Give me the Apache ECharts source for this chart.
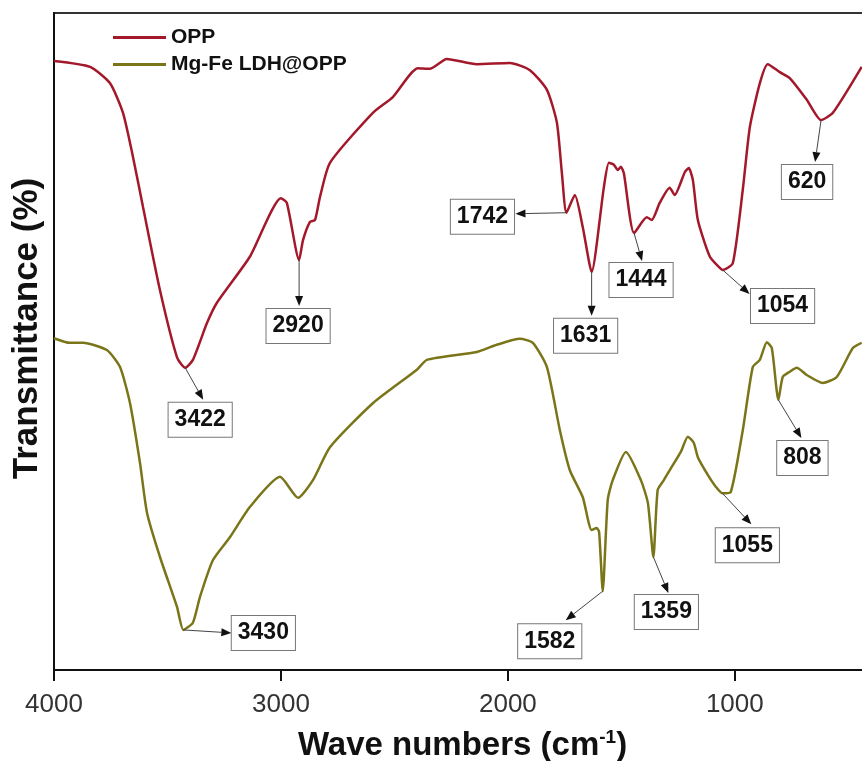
<!DOCTYPE html>
<html>
<head>
<meta charset="utf-8">
<script src="https://cdn.jsdelivr.net/npm/echarts@6/dist/echarts.min.js"></script>
<style>
  html, body { margin: 0; padding: 0; background: #ffffff; }
  #chart { width: 862px; height: 761px; }
</style>
</head>
<body>
<div id="chart"></div>
<script>
// FTIR spectra: wavenumber (cm-1) and relative transmittance
const oppWave = [4000,3841,3753,3696,3652,3608,3533,3458,3422,3388,3326,3282,3137,3000,2974,2920,2903,2872,2850,2828,2784,2595,2507,2397,2344,2269,2137,1991,1903,1828,1784,1762,1742,1705,1670,1631,1577,1555,1533,1516,1502,1489,1444,1388,1366,1331,1287,1265,1220,1203,1185,1163,1110,1066,1054,1009,965,934,890,855,802,758,683,620,568,441];
const oppT = [92.7,91.8,89.3,84.8,78.1,70.5,57.8,47.6,46.0,47.2,52.8,55.9,62.9,71.8,71.1,62.4,65.4,68.2,68.5,72.0,77.2,84.8,87.2,91.6,91.5,93.0,92.2,92.4,91.3,88.3,83.3,75.6,69.6,72.3,67.4,60.6,73.5,77.2,76.9,76.1,76.6,75.6,66.5,68.9,68.5,71.1,73.4,72.3,75.8,76.4,74.6,68.5,62.9,61.2,60.9,61.9,73.1,82.6,89.3,92.2,91.0,90.1,86.8,83.7,84.8,91.8];

const ldhWave = [4000,3930,3872,3767,3709,3665,3621,3590,3533,3458,3430,3388,3357,3300,3225,3137,3004,2925,2859,2784,2595,2401,2357,2137,2049,1947,1890,1828,1771,1727,1670,1631,1609,1598,1582,1560,1538,1480,1414,1383,1359,1340,1313,1282,1238,1207,1181,1163,1119,1084,1055,1018,965,921,890,859,837,808,789,758,727,683,613,551,480,441];
const ldhT = [50.5,49.8,49.8,48.7,46.1,40.6,31.5,23.9,17.2,9.6,6.1,7.2,11.1,16.7,20.2,24.8,29.4,26.2,28.9,33.9,40.6,45.7,47.2,48.4,49.5,50.4,49.8,46.1,36.5,30.4,26.3,21.3,21.6,21.0,12.0,25.9,28.9,33.2,28.9,25.4,17.2,27.4,28.9,30.7,33.2,35.5,34.6,32.4,29.7,27.9,26.9,27.1,36.5,46.1,47.2,49.9,49.0,41.1,44.6,45.4,46.0,44.9,43.7,44.6,49.0,49.8];

const seriesNames = ['OPP', 'Mg-Fe LDH@OPP'];
const xTicks = [4000, 3000, 2000, 1000];

// Labelled band positions (cm-1)
const oppPeaks = [3422, 2920, 1742, 1631, 1444, 1054, 620];
const ldhPeaks = [3430, 1582, 1359, 1055, 808];

// Callout placement relative to each band minimum, in pixels: box centre and arrow tip
const oppCallouts = {
  3422: { box: [15, 52], tip: [18, 32] },
  2920: { box: [-1, 66], tip: [0, 46] },
  1742: { box: [-84, 4], tip: [-51, 1] },
  1631: { box: [-6, 64], tip: [0, 44] },
  1444: { box: [7, 47], tip: [8, 28] },
  1054: { box: [60, 36], tip: [27, 24] },
  620:  { box: [-14, 62], tip: [-6, 42] }
};
const ldhCallouts = {
  3430: { box: [80, 3], tip: [48, 3] },
  1582: { box: [-53, 50], tip: [-37, 29] },
  1359: { box: [13, 55], tip: [15, 36] },
  1055: { box: [25, 52], tip: [29, 31] },
  808:  { box: [24, 58], tip: [23, 38] }
};

const FONT = 'Liberation Sans, Arial, Helvetica, sans-serif';
const RED = '#a3182a';
const OLIVE = '#7a7518';

const zip = (xs, ys) => xs.map((x, i) => [x, ys[i]]);

const chart = echarts.init(document.getElementById('chart'), null, { renderer: 'canvas' });

chart.setOption({
  animation: false,
  backgroundColor: '#ffffff',
  grid: {
    left: 54, top: 13, width: 817, height: 657,
    containLabel: false,
    outerBoundsMode: 'none',
    show: true, borderColor: '#333', borderWidth: 2, backgroundColor: 'transparent'
  },
  legend: {
    orient: 'vertical',
    left: 108, top: 22,
    icon: 'rect',
    itemWidth: 53, itemHeight: 3, itemGap: 6,
    textStyle: { fontFamily: FONT, fontSize: 21, fontWeight: 'bold', color: '#111' },
    data: seriesNames
  },
  xAxis: {
    type: 'value',
    min: 400, max: 4000,
    inverse: true,
    name: '{t|Wave numbers (cm}{s|-1}{t|)}',
    nameLocation: 'middle',
    nameGap: 58,
    nameTextStyle: {
      rich: {
        t: { fontFamily: FONT, fontSize: 33, fontWeight: 'bold', color: '#111', lineHeight: 36 },
        s: { fontFamily: FONT, fontSize: 19, fontWeight: 'bold', color: '#111', verticalAlign: 'top', lineHeight: 36 }
      }
    },
    axisLine: { show: true, onZero: false, lineStyle: { color: '#111', width: 2 } },
    axisTick: { show: true, inside: false, length: 11, lineStyle: { color: '#111', width: 2 }, customValues: xTicks },
    axisLabel: { customValues: xTicks, margin: 22, fontFamily: FONT, fontSize: 26, color: '#333', formatter: v => String(v) },
    splitLine: { show: false }
  },
  yAxis: {
    type: 'value',
    min: 0, max: 100,
    name: 'Transmittance (%)',
    nameLocation: 'middle',
    nameGap: 9,
    nameTextStyle: { fontFamily: FONT, fontSize: 35, fontWeight: 'bold', color: '#111', padding: [0, 0, 0, 26] },
    axisLine: { show: true, lineStyle: { color: '#111', width: 2 } },
    axisTick: { show: false },
    axisLabel: { show: false },
    splitLine: { show: false }
  },
  series: [
    {
      name: seriesNames[0], type: 'line', data: zip(oppWave, oppT),
      symbol: 'none', smooth: 0.2, color: RED,
      lineStyle: { color: RED, width: 2.5 }
    },
    {
      name: seriesNames[1], type: 'line', data: zip(ldhWave, ldhT),
      symbol: 'none', smooth: 0.2, color: OLIVE,
      lineStyle: { color: OLIVE, width: 2.5 }
    }
  ]
});

// Callout boxes with arrows pointing at each labelled band
function valueAt(waves, vals, w) {
  let best = 0;
  for (let i = 1; i < waves.length; i++) {
    if (Math.abs(waves[i] - w) < Math.abs(waves[best] - w)) best = i;
  }
  return vals[best];
}

const graphics = [];
function addCallout(waves, vals, peak, place) {
  const p = chart.convertToPixel({ gridIndex: 0 }, [peak, valueAt(waves, vals, peak)]);
  const tx = p[0] + place.tip[0], ty = p[1] + place.tip[1];
  const dx = tx - p[0], dy = ty - p[1];
  const len = Math.sqrt(dx * dx + dy * dy) || 1;
  const ux = dx / len, uy = dy / len;
  const head = 10, half = 4;
  const bx0 = tx - ux * head, by0 = ty - uy * head;
  graphics.push({
    type: 'line', z: 50,
    shape: { x1: p[0], y1: p[1], x2: bx0, y2: by0 },
    style: { stroke: '#444', lineWidth: 1 }
  });
  graphics.push({
    type: 'polygon', z: 51,
    shape: { points: [[tx, ty], [bx0 - uy * half, by0 + ux * half], [bx0 + uy * half, by0 - ux * half]] },
    style: { fill: '#111' }
  });
  graphics.push({
    type: 'text', z: 52,
    x: p[0] + place.box[0], y: p[1] + place.box[1],
    style: {
      text: String(peak),
      font: 'bold 23px ' + FONT,
      fill: '#111',
      align: 'center', verticalAlign: 'middle',
      backgroundColor: '#ffffff',
      borderColor: '#777', borderWidth: 1,
      padding: [6, 6, 5, 6]
    }
  });
}

oppPeaks.forEach(pk => addCallout(oppWave, oppT, pk, oppCallouts[pk]));
ldhPeaks.forEach(pk => addCallout(ldhWave, ldhT, pk, ldhCallouts[pk]));

chart.setOption({ graphic: graphics });
</script>
</body>
</html>
